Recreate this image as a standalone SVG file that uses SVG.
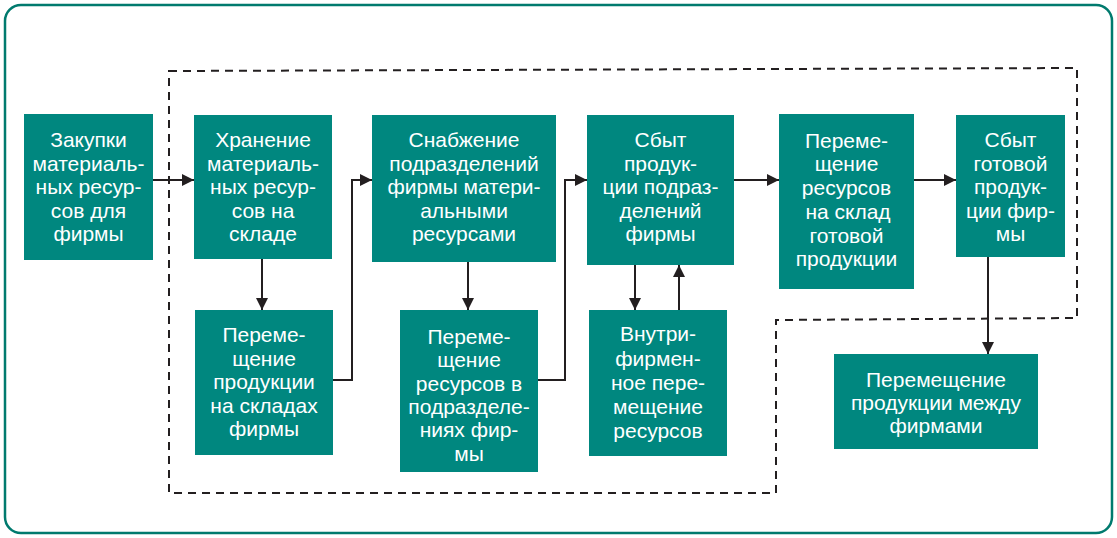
<svg xmlns="http://www.w3.org/2000/svg" width="1117" height="538" viewBox="0 0 1117 538">
<defs>
<style>
.box{fill:#00877f}
.t{fill:#ffffff;font-family:"Liberation Sans",Arial,sans-serif;font-size:21px;text-anchor:middle}
.c{fill:none;stroke:#231f20;stroke-width:2}
.d{fill:none;stroke:#231f20;stroke-width:2;stroke-dasharray:8 6}
</style>
<marker id="ah" viewBox="0 0 12 12" refX="12" refY="6" markerWidth="12" markerHeight="12" markerUnits="userSpaceOnUse" orient="auto">
<path d="M0,0 L12,6 L0,12 Z" fill="#231f20"/>
</marker>
</defs>
<rect x="0" y="0" width="1117" height="538" fill="#ffffff"/>
<rect x="5" y="5" width="1107" height="528" rx="16" fill="none" stroke="#007a6e" stroke-width="2.5"/>
<path class="d" d="M169,71 L1077,68 L1077,318 L776,320 L776,493 L169,493 Z"/>
<g id="connectors">
<path class="c" d="M153,180 L194,180" marker-end="url(#ah)"/>
<path class="c" d="M262,259 L262,310" marker-end="url(#ah)"/>
<path class="c" d="M333,380 L352,380 L352,180 L372,180" marker-end="url(#ah)"/>
<path class="c" d="M468,262 L468,310" marker-end="url(#ah)"/>
<path class="c" d="M538,380 L565,380 L565,180 L587,180" marker-end="url(#ah)"/>
<path class="c" d="M635,265 L635,310" marker-end="url(#ah)"/>
<path class="c" d="M679,310 L679,265" marker-end="url(#ah)"/>
<path class="c" d="M734,180 L779,180" marker-end="url(#ah)"/>
<path class="c" d="M914,180 L956,180" marker-end="url(#ah)"/>
<path class="c" d="M988,257 L988,354" marker-end="url(#ah)"/>
</g>
<g id="n1">
<rect class="box" x="24" y="114" width="129" height="146"/>
<text class="t"><tspan x="88.5" y="147">Закупки</tspan><tspan x="88.5" y="170.5">материаль-</tspan><tspan x="88.5" y="194">ных ресур-</tspan><tspan x="88.5" y="217.5">сов для</tspan><tspan x="88.5" y="241">фирмы</tspan></text>
</g>
<g id="n2">
<rect class="box" x="194" y="115" width="138" height="144"/>
<text class="t"><tspan x="263" y="147">Хранение</tspan><tspan x="263" y="170.5">материаль-</tspan><tspan x="263" y="194">ных ресур-</tspan><tspan x="263" y="217.5">сов на</tspan><tspan x="263" y="241">складе</tspan></text>
</g>
<g id="n3">
<rect class="box" x="372" y="115" width="184" height="147"/>
<text class="t"><tspan x="464" y="147">Снабжение</tspan><tspan x="464" y="170.5">подразделений</tspan><tspan x="464" y="194">фирмы матери-</tspan><tspan x="464" y="217.5">альными</tspan><tspan x="464" y="241">ресурсами</tspan></text>
</g>
<g id="n4">
<rect class="box" x="587" y="115" width="147" height="150"/>
<text class="t"><tspan x="660.5" y="147">Сбыт</tspan><tspan x="660.5" y="170.5">продук-</tspan><tspan x="660.5" y="194">ции подраз-</tspan><tspan x="660.5" y="217.5">делений</tspan><tspan x="660.5" y="241">фирмы</tspan></text>
</g>
<g id="n5">
<rect class="box" x="779" y="114" width="135" height="175"/>
<text class="t"><tspan x="846.5" y="147.5">Переме-</tspan><tspan x="846.5" y="171">щение</tspan><tspan x="846.5" y="195">ресурсов</tspan><tspan x="848" y="219">на склад</tspan><tspan x="846.5" y="242.5">готовой</tspan><tspan x="846.5" y="266">продукции</tspan></text>
</g>
<g id="n6">
<rect class="box" x="956" y="115" width="109" height="142"/>
<text class="t"><tspan x="1010.5" y="147">Сбыт</tspan><tspan x="1010.5" y="170.5">готовой</tspan><tspan x="1010.5" y="194">продук-</tspan><tspan x="1010.5" y="217.5">ции фир-</tspan><tspan x="1010.5" y="241">мы</tspan></text>
</g>
<g id="n7">
<rect class="box" x="195" y="310" width="138" height="145"/>
<text class="t"><tspan x="264" y="342">Переме-</tspan><tspan x="264" y="365.5">щение</tspan><tspan x="264" y="389">продукции</tspan><tspan x="264" y="412.5">на складах</tspan><tspan x="264" y="436">фирмы</tspan></text>
</g>
<g id="n8">
<rect class="box" x="400" y="310" width="138" height="162"/>
<text class="t"><tspan x="469" y="344">Переме-</tspan><tspan x="469" y="367">щение</tspan><tspan x="469" y="390.5">ресурсов в</tspan><tspan x="469" y="414">подразделе-</tspan><tspan x="469" y="437">ниях фир-</tspan><tspan x="469" y="460.5">мы</tspan></text>
</g>
<g id="n9">
<rect class="box" x="589" y="310" width="138" height="146"/>
<text class="t"><tspan x="658" y="341">Внутри-</tspan><tspan x="658" y="365.5">фирмен-</tspan><tspan x="658" y="390">ное пере-</tspan><tspan x="658" y="414">мещение</tspan><tspan x="658" y="438">ресурсов</tspan></text>
</g>
<g id="n10">
<rect class="box" x="834" y="354" width="204" height="95"/>
<text class="t"><tspan x="936" y="387">Перемещение</tspan><tspan x="936" y="410">продукции между</tspan><tspan x="936" y="433">фирмами</tspan></text>
</g>
</svg>
